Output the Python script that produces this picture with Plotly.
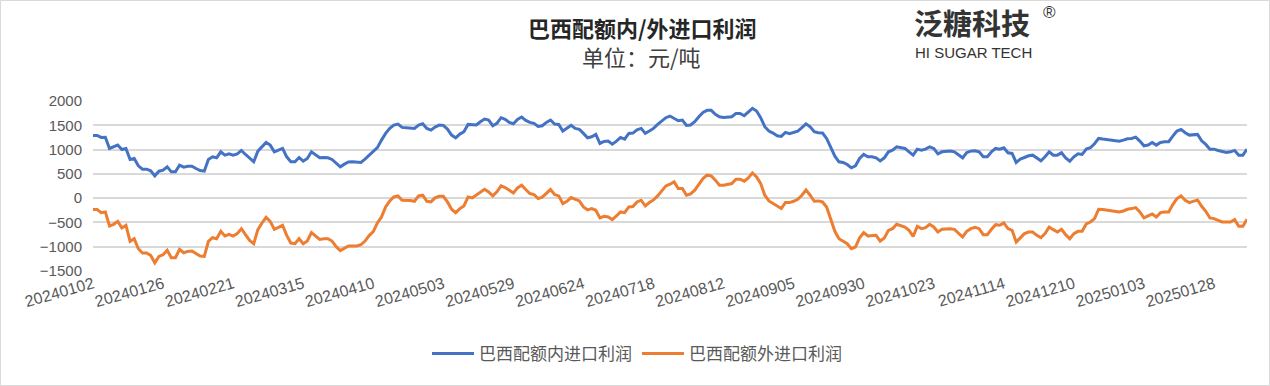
import plotly.graph_objects as go

# ---- data ----
tick_labels = ["20240102", "20240126", "20240221", "20240315", "20240410", "20240503",
               "20240529", "20240624", "20240718", "20240812", "20240905", "20240930",
               "20241023", "20241114", "20241210", "20250103", "20250128"]
tick_step = 17

quota_in = [
    1290, 1290, 1250, 1255, 1023, 1057, 1092, 1000, 1023, 796, 817, 665, 596, 596, 562, 459, 555, 576, 645, 541,
    541, 679, 638, 658, 658, 610, 569, 555, 796, 851, 830, 954, 885, 913, 885, 913, 982, 899, 817, 748,
    968, 1057, 1147, 1092, 954, 989, 1023, 851, 748, 748, 837, 761, 817, 954, 899, 830, 837,
    830, 796, 715, 645, 700, 745, 748, 745, 735, 803, 885, 954, 1040, 1195, 1333, 1436, 1505, 1525, 1457, 1450,
    1450, 1436, 1505, 1532, 1436, 1401, 1463, 1505, 1498, 1422, 1298, 1243, 1319, 1367, 1518, 1505, 1505, 1573,
    1628, 1608, 1491, 1539, 1656, 1622, 1560, 1532, 1622, 1670, 1601, 1560, 1539, 1477, 1491, 1560, 1608, 1525,
    1518, 1381, 1436, 1498, 1436, 1415, 1333, 1243, 1264, 1312, 1126, 1167, 1174, 1112, 1174, 1250, 1216, 1333,
    1340, 1408, 1436, 1333, 1381, 1436, 1518, 1594, 1656, 1690, 1642, 1594, 1608, 1498, 1505, 1573, 1677, 1766,
    1807, 1807, 1725, 1677, 1663, 1663, 1677, 1745, 1745, 1697, 1780, 1849, 1794, 1656, 1470, 1381, 1340, 1284,
    1271, 1353,
    1326, 1353, 1381, 1450, 1530, 1470, 1367, 1346, 1340, 1229, 1037, 865, 748, 734, 693, 624, 665, 817, 899, 851,
    851, 830, 768, 830, 954, 989, 1057, 1044, 1023, 954, 885, 1009, 989, 1009, 1057, 1023, 913, 954, 968, 968,
    954, 885, 830, 940, 968, 975, 954, 851, 851, 954, 1023, 1009, 1037, 934, 920, 734, 803,
    837, 872, 885, 830, 768, 851, 954, 885, 885, 934, 830, 761, 851, 913, 899, 1009, 1037, 1120, 1230, 1216,
    1202, 1188, 1181, 1174, 1195, 1223, 1230, 1257, 1174, 1078, 1092, 1147, 1092, 1147, 1161, 1161, 1278, 1381,
    1415, 1346, 1298, 1298, 1312, 1181, 1106, 1009, 1009, 982, 954, 940, 954, 982, 885, 885, 1009,
]

quota_out = [
    -236, -236, -298, -284, -573, -539, -477, -614, -559, -890, -835, -1041, -1130, -1130, -1179, -1330, -1199,
    -1165, -1075, -1227, -1227, -1055, -1124, -1096, -1089, -1144, -1192, -1199, -890, -814, -835, -683, -780,
    -745, -780, -731, -628, -752, -869, -938, -649, -511, -394, -477, -642, -601, -559, -766, -924, -938, -835,
    -938, -883, -711, -780, -849, -835,
    -835, -883, -1000, -1080, -1041, -986, -986, -986, -960, -883, -770, -690, -511, -387, -181, -57, 25, 46,
    -43, -43, -50, -64, 46, 60, -64, -78, 5, 39, 39, -78, -229, -298, -215, -160, 25, 5, 60, 115, 184, 129, 46,
    129, 252, 218, 156, 108, 211, 266, 177, 94, 74, -9, 19, 94, 177, 74,
    46, -112, -64, 12, -23, -57, -181, -243, -215, -250, -408, -374, -387, -442, -367, -284, -298, -181, -174,
    -78, -43, -160, -91, -37, 46, 142, 252, 287, 335, 197, 197, 60, 87, 163, 280, 404, 473, 459, 370, 266, 266,
    280, 301, 390, 390, 349, 418, 521, 438, 301, 60, -57, -112, -160, -215, -91,
    -92, -64, -23, 60, 170, 60, -64, -57, -78, -181, -422, -683, -835, -883, -938, -1041, -1006, -814, -711,
    -780, -780, -766, -883, -821, -663, -628, -539, -559, -594, -663, -787, -580, -628, -608, -539, -594, -697,
    -642, -628, -628, -642, -731, -800, -683, -628, -601, -628, -752, -752, -642, -546, -559, -511, -628, -663,
    -904, -821,
    -731, -697, -697, -766, -814, -731, -594, -649, -697, -642, -752, -835, -731, -683, -683, -532, -491, -422,
    -229, -236, -250, -264, -277, -284, -264, -229, -215, -195, -284, -408, -367, -325, -387, -298, -284, -284,
    -133, -9, 46, -43, -91, -57, -37, -167, -270, -408, -422, -456, -491, -491, -491, -442, -580, -580, -435,
]

series_names = ["巴西配额内进口利润", "巴西配额外进口利润"]
series_colors = ["#4472C4", "#ED7D31"]

x_idx = list(range(len(quota_in)))
tick_pos = [i * tick_step for i in range(len(tick_labels))]

CJK = "Noto Sans CJK SC"
LAT = "Liberation Sans, Arial"

# plot-area geometry in pixels (used only to place the header/logo texts)
L, R, T, B = 93, 1247, 101, 271
def px(x):
    return (x - L) / (R - L)
def py(y):
    return (B - y) / (B - T)

fig = go.Figure()
for name, vals, col in zip(series_names, [quota_in, quota_out], series_colors):
    fig.add_trace(go.Scatter(x=x_idx, y=vals, mode="lines", name=name,
                             line=dict(color=col, width=3)))

fig.update_layout(
    width=1270, height=386,
    margin=dict(l=L, r=1270 - R, t=T, b=386 - B, autoexpand=False),
    paper_bgcolor="white", plot_bgcolor="white",
    showlegend=True,
    legend=dict(orientation="h", x=px(637), xanchor="center", y=py(354), yanchor="middle",
                font=dict(family=CJK, size=17, color="#595959"),
                itemwidth=42, tracegroupgap=0),
    xaxis=dict(range=[0, len(quota_in) - 1], tickmode="array", tickvals=tick_pos, ticktext=tick_labels,
               tickangle=-16, showgrid=False, zeroline=False, showline=False, ticks="",
               automargin=False, ticklabelstandoff=0,
               tickfont=dict(family=LAT, size=16, color="#595959")),
    yaxis=dict(range=[-1500, 2000], dtick=500, tick0=0, showgrid=True, gridcolor="#D9D9D9", gridwidth=1.5,
               zeroline=False, showline=False, ticks="", ticklabelstandoff=10, automargin=False,
               tickfont=dict(family=LAT, size=15, color="#595959")),
    annotations=[
        dict(text="巴西配额内/外进口利润", xref="paper", yref="paper", x=px(642), y=py(27),
             showarrow=False, xanchor="center", yanchor="middle",
             font=dict(family=CJK, size=22, color="#262626", weight="bold")),
        dict(text="单位：元/吨", xref="paper", yref="paper", x=px(641), y=py(56),
             showarrow=False, xanchor="center", yanchor="middle",
             font=dict(family=CJK, size=22, color="#404040")),
        dict(text="泛糖科技", xref="paper", yref="paper", x=px(972), y=py(22),
             showarrow=False, xanchor="center", yanchor="middle",
             font=dict(family=CJK, size=29, color="#333333", weight="bold")),
        dict(text="®", xref="paper", yref="paper", x=px(1049), y=py(12),
             showarrow=False, xanchor="center", yanchor="middle",
             font=dict(family=LAT, size=17, color="#333333")),
        dict(text="HI SUGAR TECH", xref="paper", yref="paper", x=px(973), y=py(53),
             showarrow=False, xanchor="center", yanchor="middle",
             font=dict(family=LAT, size=15, color="#333333")),
    ],
    shapes=[dict(type="rect", xref="paper", yref="paper",
                 x0=px(0.5), x1=px(1269.5), y0=py(385.5), y1=py(0.5),
                 line=dict(color="#D9D9D9", width=1), fillcolor="rgba(0,0,0,0)", layer="below")],
)

fig.write_html("out.html", config={"displayModeBar": False},
               post_script="document.body.style.margin='0';")
